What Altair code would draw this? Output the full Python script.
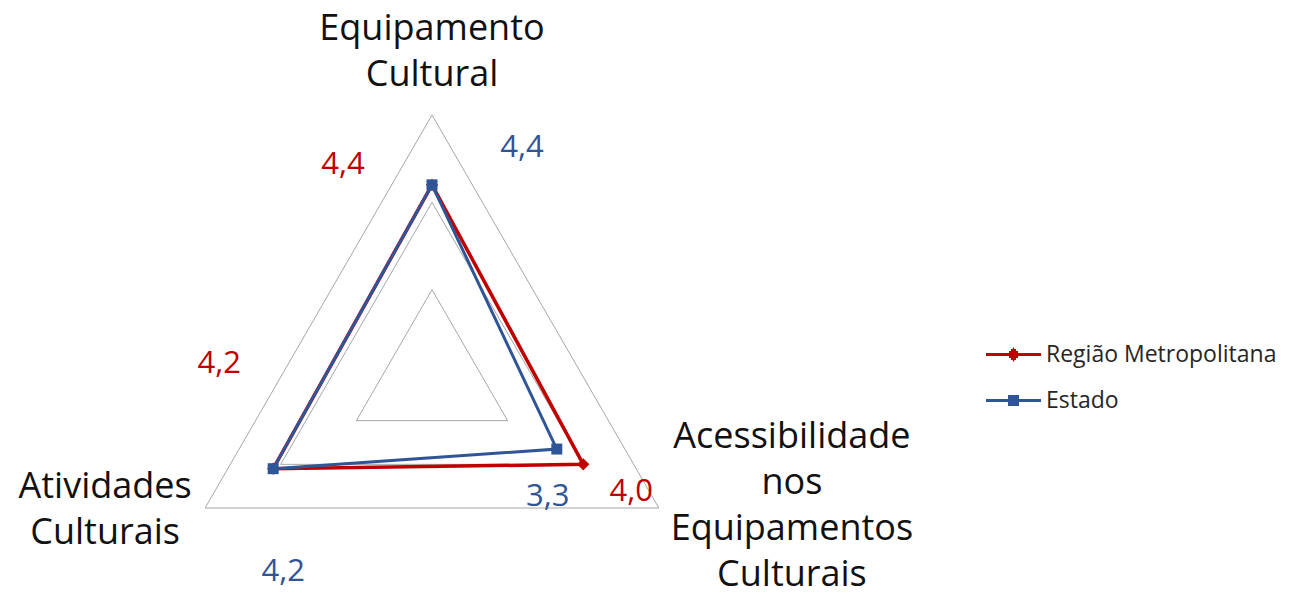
import altair as alt
import pandas as pd

# ---- data ----
categories = ["Equipamento Cultural",
              "Acessibilidade nos Equipamentos Culturais",
              "Atividades Culturais"]
series_names = ["Região Metropolitana", "Estado"]
regiao = [4.4, 4.0, 4.2]
estado = [4.4, 3.3, 4.2]
grid_levels = [2, 4, 6]
max_value = 6

# ---- styles ----
colors = ["#C00000", "#2F5597"]
line_widths = [3.5, 3.0]
shapes = ["diamond", "square"]
shape_sizes = [150, 121]
# label offsets (px) per series, per category
label_offsets = [[(-89, -20), (48, 28), (-54, -105)],
                 [(90, -37), (-9, 48), (10, 103)]]
cat_offsets = [(0, -86), (133, -71), (-100, -21)]

n = len(categories)
W, H = 1273, 592
k = 262 / max_value          # px per unit
cx, cy = 424, 369            # centre in plot px
xdom = [-cx / k, (W - cx) / k]
ydom = [-(H - cy) / k, cy / k]

x_enc = alt.X("x:Q", scale=alt.Scale(domain=xdom, nice=False, zero=False), axis=None)
y_enc = alt.Y("y:Q", scale=alt.Scale(domain=ydom, nice=False, zero=False), axis=None)

def polar(ch):
    return ch.transform_calculate(
        angle=f"datum.idx * 2 * PI / {n}"
    ).transform_calculate(
        x="datum.value * sin(datum.angle)",
        y="datum.value * cos(datum.angle)",
    )

# grid
grid_rows = []
for lv in grid_levels:
    for i in range(n + 1):
        grid_rows.append({"level": lv, "idx": i % n, "order": i, "value": lv})
grid_df = pd.DataFrame(grid_rows)
grid = polar(alt.Chart(grid_df)).mark_line(color="#A6A6A6", strokeWidth=1).encode(
    x=x_enc, y=y_enc, detail="level:N", order="order:Q")

# series
rows = []
for s, vals in zip(series_names, [regiao, estado]):
    for i in range(n + 1):
        rows.append({"series": s, "category": categories[i % n], "idx": i % n,
                     "order": i, "value": vals[i % n]})
df = pd.DataFrame(rows)

color_scale = alt.Scale(domain=series_names, range=colors)

layers = [grid]
for j, s in enumerate(series_names):
    base = polar(alt.Chart(df).transform_filter(alt.datum.series == s))
    layers.append(base.mark_line(strokeWidth=line_widths[j], color=colors[j]).encode(
        x=x_enc, y=y_enc, order="order:Q"))
for j, s in enumerate(series_names):
    base = polar(alt.Chart(df).transform_filter(
        (alt.datum.series == s) & (alt.datum.order < n)))
    layers.append(base.mark_point(shape=shapes[j], size=shape_sizes[j], filled=True,
                                  color=colors[j], opacity=1).encode(x=x_enc, y=y_enc))

# data labels
for j, s in enumerate(series_names):
    for i in range(n):
        dx, dy = label_offsets[j][i]
        base = polar(alt.Chart(df).transform_filter(
            (alt.datum.series == s) & (alt.datum.order == i)))
        layers.append(base.transform_calculate(
            label="replace(format(datum.value, '.1f'), '.', ',')"
        ).mark_text(font="Open Sans", fontSize=31, color=colors[j], dx=dx, dy=dy,
                    align="center", baseline="middle").encode(
            x=x_enc, y=y_enc, text="label:N"))

# category labels
cat_df = pd.DataFrame({"category": categories, "idx": list(range(n)),
                       "value": [max_value] * n})
for i in range(n):
    dx, dy = cat_offsets[i]
    base = polar(alt.Chart(cat_df).transform_filter(alt.datum.idx == i))
    layers.append(base.mark_text(font="Open Sans", fontSize=36, color="#111111",
                                 lineBreak=" ", lineHeight=46, dx=dx, dy=dy,
                                 align="center", baseline="middle").encode(
        x=x_enc, y=y_enc, text="category:N"))

# legend (line + marker symbols)
sq = "M-2.75,0H2.75M-0.55,-0.4H0.55M-0.55,-0.13H0.55M-0.55,0.13H0.55M-0.55,0.4H0.55"
di = ("M-2.75,0H2.75M-0.65,0H0.65M-0.45,-0.2H0.45M-0.45,0.2H0.45"
      "M-0.25,-0.4H0.25M-0.25,0.4H0.25M-0.07,-0.55H0.07M-0.07,0.55H0.07")
leg_opts = dict(
    title=None, orient="none", legendX=994, legendY=335,
    labelFont="Open Sans", labelFontSize=23, labelColor="#262626", labelLimit=0,
    symbolStrokeWidth=3, symbolSize=400, symbolOpacity=1,
    labelOffset=21, rowPadding=22)
leg_base = polar(alt.Chart(df).transform_filter(alt.datum.order < n))
legend_layer = leg_base.mark_point(filled=False, opacity=0, size=400).encode(
    x=x_enc, y=y_enc,
    color=alt.Color("series:N", scale=color_scale, legend=alt.Legend(**leg_opts)),
    shape=alt.Shape("series:N", scale=alt.Scale(domain=series_names, range=[di, sq]),
                    legend=alt.Legend(**leg_opts)),
)
layers.append(legend_layer)

chart = alt.layer(*layers).properties(
    width=W, height=H, autosize="none", padding=0
).configure_view(stroke=None)

chart.save("out.html", embed_options={"renderer": "svg", "actions": False})
